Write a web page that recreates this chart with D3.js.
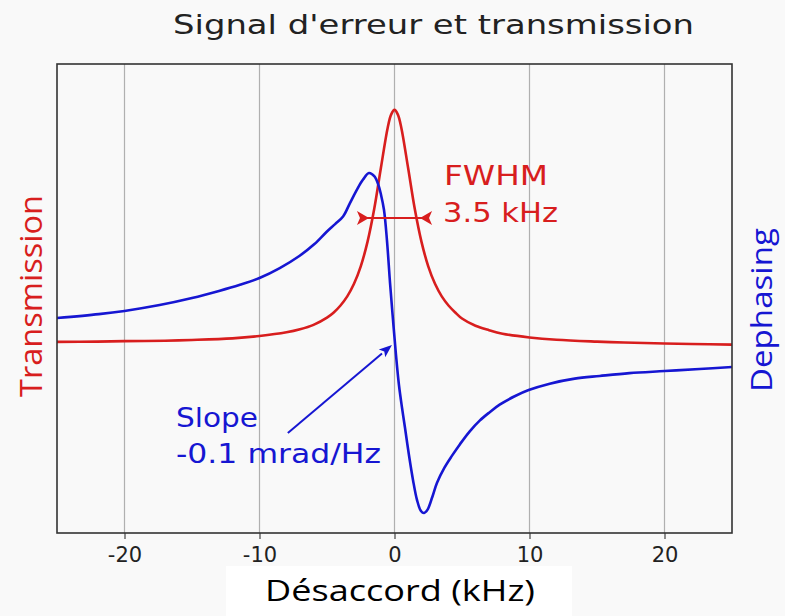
<!DOCTYPE html>
<html>
<head>
<meta charset="utf-8">
<script src="https://cdn.jsdelivr.net/npm/d3@7"></script>
<style>
  html, body { margin: 0; padding: 0; background: #f9f9f9; }
  svg { display: block; }
</style>
</head>
<body>
<svg id="chart" width="785" height="616"></svg>
<script>
// ---- data ----
const detuning = [-25,-22,-20,-17,-15,-12,-10,-8,-7,-6,-5,-4.5,-4,-3.5,-3,-2.5,-2,-1.5,-1,-0.5,-0.25,0,0.25,0.5,1,1.5,2,2.5,3,3.5,4,4.5,5,6,7,8,10,12,15,17,20,22,25];
const transmission = [0.005,0.006,0.008,0.010,0.013,0.020,0.030,0.046,0.059,0.078,0.109,0.131,0.161,0.200,0.254,0.329,0.434,0.576,0.754,0.925,0.980,1.0,0.980,0.925,0.754,0.576,0.434,0.329,0.254,0.200,0.161,0.131,0.105,0.074,0.055,0.040,0.024,0.014,0.006,0.002,-0.002,-0.004,-0.007];

const detuningPhase = [-25,-21.9,-20,-17.4,-15,-13,-11.5,-10,-8.5,-7.05,-5.93,-5.04,-4.4,-3.81,-3.3,-2.75,-2.33,-1.89,-1.5,-1.2,-1.0,-0.78,-0.56,-0.33,-0.11,0.11,0.33,0.56,0.78,1.07,1.37,1.67,1.96,2.19,2.45,2.8,3.15,3.7,4.25,4.85,5.56,6.31,7.05,7.79,8.9,9.94,11.5,13.35,15.2,17.4,20,22.6,25];
const dephasing = [14.6,16.9,18.8,22.3,26.5,30.7,34.2,38.4,44.3,51.5,58.6,65.8,70.5,75.0,83.0,91.5,97.0,100.9,99.0,94.0,88.0,79.0,61.0,35.4,13.4,-7.4,-25.3,-39.0,-50.9,-67.0,-81.8,-93.8,-100.3,-101.5,-99.5,-92.0,-83.5,-74.5,-67.5,-60.5,-53.0,-46.5,-41.5,-37.0,-32.0,-28.3,-24.5,-21.5,-19.9,-18.2,-17.0,-15.8,-14.6];

const xTicks = [-20,-10,0,10,20];
const titleText = "Signal d'erreur et transmission";
const xLabel = "Désaccord (kHz)";
const leftLabel = "Transmission";
const rightLabel = "Dephasing";
const fwhmLabel = ["FWHM", "3.5 kHz"];
const slopeLabel = ["Slope", "-0.1 mrad/Hz"];
// annotation anchor points in data units
const fwhmSpan = [-2.78, 2.78], fwhmLevel = 0.536;
const slopeArrow = {from: [-7.9, -53.9], to: [-0.19, -1.5]};

// ---- layout ----
const RED = "#d81e1e", BLUE = "#1616d2";
const svg = d3.select("#chart");
const L = 57, R = 732, T = 64, B = 533;

const x = d3.scaleLinear().domain([-25, 25]).range([L, R]);
const yT = d3.scaleLinear().domain([-0.815, 1.197]).range([B, T]);
const yD = d3.scaleLinear().domain([-113.4, 165.8]).range([B, T]);

// grid
svg.append("g").selectAll("line").data(xTicks).join("line")
  .attr("x1", d => x(d)).attr("x2", d => x(d))
  .attr("y1", T).attr("y2", B)
  .attr("stroke", "#b0b0b0").attr("stroke-width", 1.2);

// x axis
const ax = svg.append("g").attr("transform", `translate(0,${B})`)
  .call(d3.axisBottom(x).tickValues(xTicks).tickSize(6).tickPadding(8).tickFormat(d => String(d)));
ax.select(".domain").remove();
ax.selectAll(".tick line").attr("stroke", "#444").attr("stroke-width", 1.2);
ax.selectAll(".tick text").attr("fill", "#222")
  .style("font-family", "DejaVu Sans").style("font-size", "21px");

// curves
const line = (xs, ys, sy) => d3.line().curve(d3.curveCatmullRom.alpha(0.5))
  .x((d, i) => x(xs[i])).y((d, i) => sy(ys[i]));

svg.append("clipPath").attr("id", "clip").append("rect")
  .attr("x", L).attr("y", T).attr("width", R - L).attr("height", B - T);

svg.append("path").attr("clip-path", "url(#clip)")
  .attr("d", line(detuning, transmission, yT)(transmission))
  .attr("fill", "none").attr("stroke", RED).attr("stroke-width", 2.6).attr("stroke-linejoin", "round");
svg.append("path").attr("clip-path", "url(#clip)")
  .attr("d", line(detuningPhase, dephasing, yD)(dephasing))
  .attr("fill", "none").attr("stroke", BLUE).attr("stroke-width", 2.6).attr("stroke-linejoin", "round");

// frame
svg.append("rect").attr("x", L).attr("y", T).attr("width", R - L).attr("height", B - T)
  .attr("fill", "none").attr("stroke", "#333").attr("stroke-width", 1.6);

// FWHM arrow
const fx1 = x(fwhmSpan[0]), fx2 = x(fwhmSpan[1]), fy = yT(fwhmLevel);
svg.append("line").attr("x1", fx1 + 4).attr("x2", fx2 - 4).attr("y1", fy).attr("y2", fy)
  .attr("stroke", RED).attr("stroke-width", 2);
svg.append("path")
  .attr("d", `M${fx1},${fy-7} L${fx1+12},${fy} L${fx1},${fy+7} L${fx1+3},${fy} Z M${fx2},${fy-7} L${fx2-12},${fy} L${fx2},${fy+7} L${fx2-3},${fy} Z`)
  .attr("fill", RED);

// slope arrow
const sx1 = x(slopeArrow.from[0]), sy1 = yD(slopeArrow.from[1]);
const sx2 = x(slopeArrow.to[0]), sy2 = yD(slopeArrow.to[1]);
const ang = Math.atan2(sy2 - sy1, sx2 - sx1);
const hl = 13, hw = 5;
const bx = sx2 - hl * Math.cos(ang), by = sy2 - hl * Math.sin(ang);
svg.append("line").attr("x1", sx1).attr("y1", sy1).attr("x2", bx).attr("y2", by)
  .attr("stroke", BLUE).attr("stroke-width", 2);
svg.append("path")
  .attr("d", `M${sx2},${sy2} L${bx - hw*Math.sin(ang)},${by + hw*Math.cos(ang)} L${bx + 3*Math.cos(ang)},${by + 3*Math.sin(ang)} L${bx + hw*Math.sin(ang)},${by - hw*Math.cos(ang)} Z`)
  .attr("fill", BLUE);

// texts
function txt(s, px, py, size, fill, len, family, anchor) {
  const t = svg.append("text").attr("x", px).attr("y", py).text(s)
    .attr("fill", fill).style("font-family", family || "DejaVu Sans").style("font-size", size + "px");
  if (len) t.attr("textLength", len).attr("lengthAdjust", "spacingAndGlyphs");
  if (anchor) t.attr("text-anchor", anchor);
  return t;
}
txt(titleText, 173, 34, 27, "#222", 521);
txt(fwhmLabel[0], 444, 185, 26, RED, 104);
txt(fwhmLabel[1], 443, 222, 26, RED, 115);
txt(slopeLabel[0], 176, 427, 26, BLUE, 82);
txt(slopeLabel[1], 176, 463, 26, BLUE, 205);

// bottom label box
svg.append("rect").attr("x", 226).attr("y", 566).attr("width", 346).attr("height", 50).attr("fill", "#ffffff");
txt(xLabel, 265, 601, 29, "#000", 270, "Open Sans");

// side labels
svg.append("text").attr("transform", "translate(42,296) rotate(-90)")
  .attr("text-anchor", "middle").text(leftLabel)
  .attr("fill", RED).style("font-family", "Open Sans").style("font-size", "31px")
  .attr("textLength", 202).attr("lengthAdjust", "spacingAndGlyphs");
svg.append("text").attr("transform", "translate(772,310) rotate(-90)")
  .attr("text-anchor", "middle").text(rightLabel)
  .attr("fill", BLUE).style("font-family", "Open Sans").style("font-size", "29px")
  .attr("textLength", 164).attr("lengthAdjust", "spacingAndGlyphs");
</script>
</body>
</html>
